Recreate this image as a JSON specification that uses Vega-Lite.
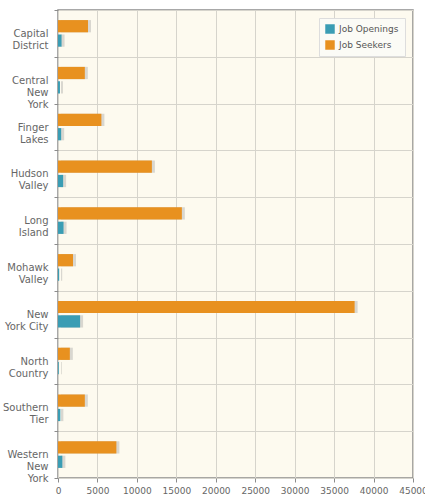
{
  "$schema": "https://vega.github.io/schema/vega-lite/v6.json",
  "width": 355,
  "height": 468,
  "autosize": {"type": "none"},
  "padding": {"left": 58, "top": 10, "right": 12, "bottom": 18},
  "background": "white",
  "config": {
    "font": "DejaVu Sans",
    "view": {"fill": "#fdfaef", "stroke": "#8c8c8c", "strokeWidth": 1.5}
  },
  "data": {
    "values": [
      {"region": "Capital District", "series": "Job Seekers", "value": 3800},
      {"region": "Capital District", "series": "Job Openings", "value": 450},
      {"region": "Central New York", "series": "Job Seekers", "value": 3400},
      {"region": "Central New York", "series": "Job Openings", "value": 250},
      {"region": "Finger Lakes", "series": "Job Seekers", "value": 5500},
      {"region": "Finger Lakes", "series": "Job Openings", "value": 400},
      {"region": "Hudson Valley", "series": "Job Seekers", "value": 11900},
      {"region": "Hudson Valley", "series": "Job Openings", "value": 650},
      {"region": "Long Island", "series": "Job Seekers", "value": 15700},
      {"region": "Long Island", "series": "Job Openings", "value": 700},
      {"region": "Mohawk Valley", "series": "Job Seekers", "value": 1900},
      {"region": "Mohawk Valley", "series": "Job Openings", "value": 150},
      {"region": "New York City", "series": "Job Seekers", "value": 37600},
      {"region": "New York City", "series": "Job Openings", "value": 2800},
      {"region": "North Country", "series": "Job Seekers", "value": 1500},
      {"region": "North Country", "series": "Job Openings", "value": 100},
      {"region": "Southern Tier", "series": "Job Seekers", "value": 3400},
      {"region": "Southern Tier", "series": "Job Openings", "value": 300},
      {"region": "Western New York", "series": "Job Seekers", "value": 7400},
      {"region": "Western New York", "series": "Job Openings", "value": 550}
    ]
  },
  "encoding": {
    "y": {
      "field": "region",
      "type": "nominal",
      "sort": null,
      "title": null,
      "scale": {"paddingInner": 0, "paddingOuter": 0},
      "axis": {
        "tickBand": "extent",
        "grid": true,
        "gridColor": "#d6d4cc",
        "gridOpacity": 1,
        "domain": false,
        "tickColor": "#8c8c8c",
        "tickSize": 4,
        "labelColor": "#666666",
        "labelFontSize": 10,
        "labelLineHeight": 12,
        "labelPadding": 6,
        "labelExpr": "datum.label == 'New York City' ? ['New', 'York City'] : split(datum.label, ' ')"
      }
    },
    "yOffset": {
      "field": "series",
      "sort": ["Job Seekers", "Job Openings"],
      "scale": {"paddingInner": 0.15, "paddingOuter": 0.7}
    },
    "x": {
      "field": "value",
      "type": "quantitative",
      "title": null,
      "scale": {"domain": [0, 45000], "nice": false},
      "axis": {
        "values": [0, 5000, 10000, 15000, 20000, 25000, 30000, 35000, 40000, 45000],
        "format": "d",
        "grid": true,
        "gridColor": "#d6d4cc",
        "gridOpacity": 1,
        "domain": false,
        "tickColor": "#8c8c8c",
        "tickSize": 4,
        "labelColor": "#666666",
        "labelFontSize": 9,
        "labelPadding": 4,
        "labelFlush": false
      }
    }
  },
  "layer": [
    {
      "mark": {"type": "bar", "color": "#888888", "opacity": 0.3, "xOffset": 3, "yOffset": 3}
    },
    {
      "mark": {"type": "bar"},
      "encoding": {
        "color": {
          "field": "series",
          "type": "nominal",
          "scale": {"domain": ["Job Openings", "Job Seekers"], "range": ["#3a9db4", "#e8911f"]},
          "legend": {
            "title": null,
            "orient": "top-right",
            "offset": 8,
            "fillColor": "#fbfbf6",
            "strokeColor": "#dddddd",
            "padding": 6,
            "symbolType": "square",
            "symbolSize": 90,
            "symbolStrokeWidth": 0,
            "labelFontSize": 9,
            "labelColor": "#555555",
            "rowPadding": 6
          }
        }
      }
    }
  ]
}
